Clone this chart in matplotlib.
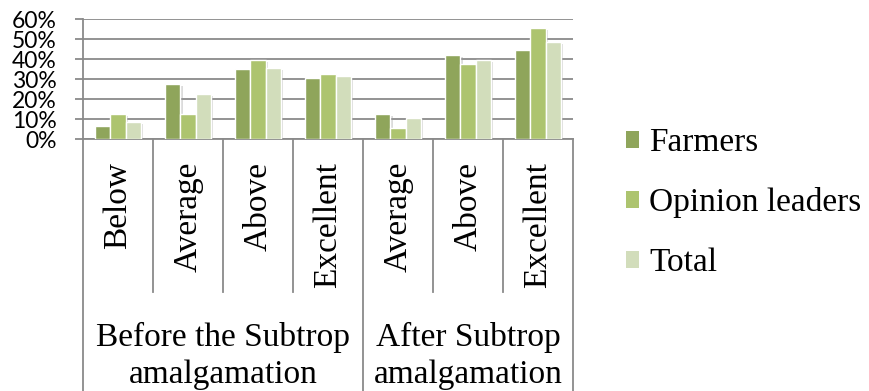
import numpy as np
import matplotlib.pyplot as plt
import matplotlib.patheffects as pe
from matplotlib.patches import Patch

# data (percent)
categories = ["Below", "Average", "Above", "Excellent", "Average", "Above", "Excellent"]
groups = ["Before the Subtrop\namalgamation", "After Subtrop\namalgamation"]
group_sizes = [4, 3]
series = ["Farmers", "Opinion leaders", "Total"]
farmers = [6.7, 27.7, 34.8, 30.5, 12.5, 41.8, 44.7]
opinion_leaders = [12.7, 12.7, 39.7, 32.5, 5.5, 37.7, 55.5]
total = [8.3, 22.5, 35.7, 31.5, 10.7, 39.7, 48.5]
colors = ["#8fa55b", "#adc46f", "#d2ddbb"]
yticks = [0, 10, 20, 30, 40, 50, 60]

grid_col = "#8a8a8a"
serif = "Liberation Serif"

fig = plt.figure(figsize=(8.69, 3.91), dpi=100)
ax = fig.add_axes([83 / 869, 1 - 139 / 391, 490 / 869, 120 / 391])

x = np.arange(len(categories)) + 0.5
w = 0.215
shadow = [pe.SimplePatchShadow(offset=(1.5, -1.5), shadow_rgbFace="#999999", alpha=0.35), pe.Normal()]
for j, vals in enumerate([farmers, opinion_leaders, total]):
    bars = ax.bar(x + (j - 1) * w, vals, width=w, color=colors[j],
                  edgecolor="white", linewidth=1, zorder=3, label=series[j])
    for b in bars:
        b.set_path_effects(shadow)

ax.set_xlim(0, len(categories))
ax.set_ylim(0, 60)
ax.set_yticks(yticks)
ax.set_yticklabels([f"{v}%" for v in yticks], fontfamily="Lato", fontsize=16.5)
for v in yticks:
    ax.axhline(v, color=grid_col, linewidth=1.3, zorder=1)
ax.tick_params(axis="y", length=6, width=1.3, color=grid_col, pad=13)
ax.tick_params(axis="x", length=0, labelbottom=False)
for s in ["top", "right"]:
    ax.spines[s].set_visible(False)
for s in ["left", "bottom"]:
    ax.spines[s].set_color(grid_col)
    ax.spines[s].set_linewidth(1.3)

# multi-level category axis drawn under the plot
trans = ax.get_xaxis_transform()
inner_bottom = -(292 - 139) / 120
outer_bottom = -(391 - 139) / 120 - 0.05
bounds = np.cumsum([0] + group_sizes)
for i in range(len(categories) + 1):
    yb = outer_bottom if i in bounds else inner_bottom
    ax.plot([i, i], [0, yb], transform=trans, color=grid_col, linewidth=1.3, clip_on=False)
for xi, lab in zip(x, categories):
    ax.text(xi, -(162 - 139) / 120, lab, transform=trans, rotation=90, ha="center", va="top",
            fontfamily=serif, fontsize=24)
for k, g in enumerate(groups):
    xc = (bounds[k] + bounds[k + 1]) / 2
    ax.text(xc, -(322 - 139) / 120, g, transform=trans, ha="center", va="top",
            fontfamily=serif, fontsize=24, linespacing=1.28)

handles = [Patch(facecolor=c) for c in colors]
fig.legend(handles, series, loc="center left", bbox_to_anchor=(626 / 869, 1 - 203 / 391),
           frameon=False, prop={"family": serif, "size": 24}, handlelength=0.4, handleheight=0.4,
           handletextpad=0.3, labelspacing=0.88, borderpad=0, borderaxespad=0)

fig.savefig("out.png", dpi=100)
